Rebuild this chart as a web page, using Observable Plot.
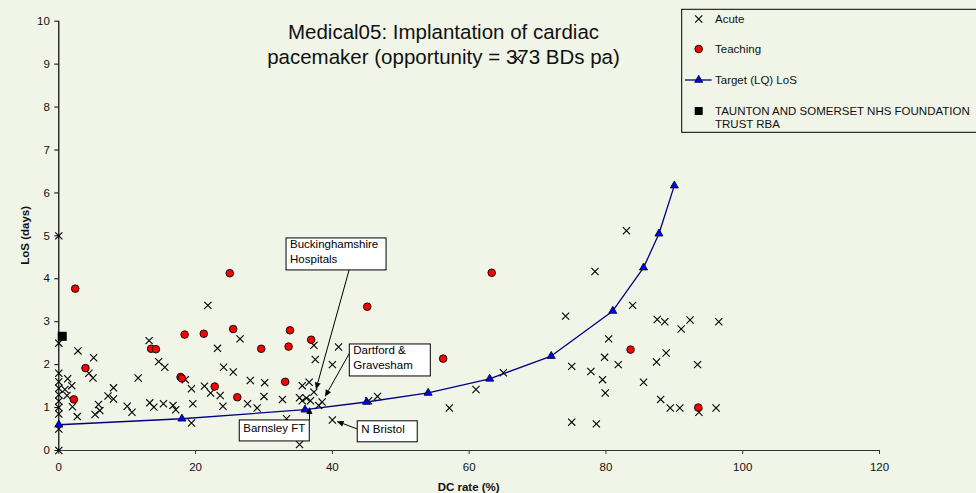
<!DOCTYPE html>
<html><head><meta charset="utf-8">
<script src="https://cdn.jsdelivr.net/npm/d3@7"></script>
<script src="https://cdn.jsdelivr.net/npm/@observablehq/plot@0.6"></script>
<style>
html,body{margin:0;padding:0;background:#F0F5E8;}
#chart{position:relative;width:976px;height:493px;overflow:hidden;}
svg{font-family:Arial,"Liberation Sans",sans-serif;}
</style></head><body><div id="chart"></div>
<script>
// ---- data ----
const titleLines = ["Medical05: Implantation of cardiac", "pacemaker (opportunity = 373 BDs pa)"];
const xLabel = "DC rate (%)";
const yLabel = "LoS (days)";
const xTicks = [0, 20, 40, 60, 80, 100, 120];
const yTicks = [0, 1, 2, 3, 4, 5, 6, 7, 8, 9, 10];
const seriesNames = ["Acute", "Teaching", "Target (LQ) LoS", "TAUNTON AND SOMERSET NHS FOUNDATION TRUST RBA"];

// Acute trusts [DC rate %, LoS days]
const acutePoints = [
  [0,5.0],[0,2.5],[0,1.8],[0,1.6],[0,1.45],[0,1.3],[0,1.15],[0,1.0],[0,0.85],[0,0.5],[0,0.0],
  [0.9,1.42],[1.3,1.67],[1.9,1.51],[1.2,1.28],[2.0,1.02],[2.7,0.79],
  [2.8,2.32],[5.1,2.16],[4.4,1.8],[5.0,1.69],[5.3,0.84],[6.0,0.93],[5.8,1.07],
  [7.2,1.27],[8.0,1.46],[8.0,1.20],[10.0,1.03],[10.7,0.89],[11.6,1.69],
  [13.2,2.56],[13.3,1.11],[13.9,1.01],[14.6,2.07],[15.5,1.94],[15.3,1.09],[16.7,1.05],[17.1,0.95],
  [18.5,1.65],[19.4,1.44],[19.6,1.09],[19.4,0.64],
  [21.3,1.50],[21.8,3.38],[22.2,1.34],[23.2,2.38],[23.6,1.28],[24.1,1.94],[24.0,1.03],[25.5,1.83],
  [26.5,2.60],[27.6,1.09],[28.0,1.63],[29.0,0.99],[30.1,1.58],[30.0,1.26],
  [32.7,1.19],[33.3,0.74],[35.6,1.51],[36.6,1.59],[37.3,2.45],[37.5,2.12],[40.9,2.41],[40.0,2.0],
  [35.2,1.23],[35.6,1.16],[36.2,1.22],[37.3,1.36],[36.8,1.16],[38.5,1.13],[38.0,1.05],[40.0,0.71],[35.2,0.14],
  [45.3,1.16],[46.6,1.26],[57.1,0.99],[61.0,1.42],[65.0,1.81],[67.1,9.13],
  [74.1,3.13],[75.0,1.96],[75.0,0.66],[78.4,4.17],[77.8,1.84],[78.6,0.62],[80.4,2.60],[79.8,2.17],
  [79.5,1.65],[79.9,1.34],[81.8,2.0],[83.9,3.38],[83.0,5.12],[85.5,1.59],[87.5,3.05],[88.6,3.0],
  [91.0,2.83],[92.3,3.04],[96.5,3.0],[87.4,2.06],[88.8,2.27],[93.4,2.0],[88.0,1.19],[89.4,0.99],
  [90.8,0.99],[93.6,0.89],[96.1,0.99]
];
// Teaching trusts [DC rate %, LoS days]
const teachingPoints = [
  [2.4,3.77],[25.0,4.13],[2.2,1.19],[3.9,1.92],[13.5,2.37],[14.2,2.36],[18.4,2.70],[21.2,2.72],
  [25.5,2.83],[17.8,1.71],[18.0,1.68],[22.8,1.49],[26.1,1.24],[29.6,2.37],[33.8,2.80],[33.6,2.42],
  [33.1,1.60],[36.9,2.58],[45.1,3.35],[63.3,4.14],[56.2,2.14],[83.6,2.35],[93.5,1.0]
];
// Target (LQ) LoS curve
const targetDC  = [0, 18, 36, 45, 54, 63, 72, 81, 85.5, 87.75, 90];
const targetLoS = [0.6, 0.74, 0.95, 1.13, 1.34, 1.67, 2.2, 3.25, 4.26, 5.05, 6.17];
// Highlighted trust
const tauntonPoint = [[0.5, 2.66]];
// Annotations: label lines, box top-left (DC, LoS), arrow from (DC, LoS) to (DC, LoS)
const annotations = [
  {lines:["Buckinghamshire","Hospitals"], boxDC:33.3, boxLoS:4.94, fromDC:42.55, fromLoS:4.21, toDC:37.67, toLoS:1.41},
  {lines:["Dartford &","Gravesham"], boxDC:42.55, boxLoS:2.47, fromDC:42.55, fromLoS:2.25, toDC:38.99, toLoS:1.24},
  {lines:["N Bristol"], boxDC:43.71, boxLoS:0.68, fromDC:43.71, fromLoS:0.49, toDC:40.7, toLoS:0.67},
  {lines:["Barnsley FT"], boxDC:26.46, boxLoS:0.70, fromDC:36.73, fromLoS:0.70, toDC:36.73, toLoS:1.0}
];
const annotationBoxWidths = [100, 81, 60, 70];

// ---- build ----
const toObj = ([dc, los]) => ({dc, los});
const acute = acutePoints.map(toObj);
const teaching = teachingPoints.map(toObj);
const target = targetDC.map((dc, i) => ({dc, los: targetLoS[i]}));
const taunton = tauntonPoint.map(toObj);

const BG = "#F0F5E8";
const FONT = "Arial, 'Liberation Sans', sans-serif";

const plot = Plot.plot({
  width: 976, height: 493,
  marginLeft: 58.3, marginRight: 97, marginTop: 20.7, marginBottom: 43,
  style: {background: BG, fontFamily: FONT, fontSize: "11.5px", color: "#111", overflow: "visible"},
  x: {domain: [0, 120]},
  y: {domain: [0, 10]},
  marks: [
    Plot.axisX({ticks: xTicks, tickSize: 4, tickPadding: 8, label: null, tickFormat: d => String(d), stroke: "#333"}),
    Plot.axisY({ticks: yTicks, tickSize: 4, tickPadding: 5, label: null, tickFormat: d => String(d), stroke: "#000"}),
    Plot.ruleY([0], {stroke: "#333", strokeWidth: 1.2}),
    Plot.ruleX([0], {stroke: "#000", strokeWidth: 1.2}),
    Plot.dot(acute, {x: "dc", y: "los", symbol: "times", r: 3.35, stroke: "#000", strokeWidth: 1.1}),
    Plot.dot(teaching, {x: "dc", y: "los", symbol: "circle", r: 3.8, fill: "#FF0000", stroke: "#000", strokeWidth: 0.9}),
    Plot.line(target, {x: "dc", y: "los", stroke: "#000080", strokeWidth: 1.3}),
    Plot.dot(target, {x: "dc", y: "los", symbol: d3.symbolTriangle, r: 3.0, fill: "#0000FF", stroke: "#000", strokeWidth: 0.8}),
    Plot.dot(taunton, {x: "dc", y: "los", symbol: "square", r: 5.1, fill: "#000", stroke: "none"})
  ]
});
document.getElementById("chart").appendChild(plot);

const svg = d3.select(plot);
const X = plot.scale("x").apply, Y = plot.scale("y").apply;

// Title
const tg = svg.append("g").attr("font-family", FONT).attr("font-size", "20.5px").attr("fill", "#111").attr("text-anchor", "middle");
titleLines.forEach((t, i) => tg.append("text").attr("x", 443.5).attr("y", 39.3 + i * 24.7).text(t));

// Axis titles
svg.append("text").attr("x", (X(0) + X(120)) / 2).attr("y", 490.5).attr("text-anchor", "middle")
  .attr("font-weight", "bold").attr("font-size", "11.5px").attr("font-family", FONT).attr("fill", "#111").text(xLabel);
svg.append("text").attr("transform", `translate(28.5,${(Y(0) + Y(10)) / 2}) rotate(-90)`).attr("text-anchor", "middle")
  .attr("font-weight", "bold").attr("font-size", "11.5px").attr("font-family", FONT).attr("fill", "#111").text(yLabel);

// Annotations
const ag = svg.append("g").attr("font-family", FONT).attr("font-size", "11.5px").attr("text-anchor", "start");
annotations.forEach((a, i) => {
  const x0 = X(a.boxDC), y0 = Y(a.boxLoS);
  const h = a.lines.length === 1 ? 21 : 32;
  const x1 = X(a.fromDC), y1 = Y(a.fromLoS), x2 = X(a.toDC), y2 = Y(a.toLoS);
  const ang = Math.atan2(y2 - y1, x2 - x1), L = 7, Wd = 3;
  const bx = x2 - L * Math.cos(ang), by = y2 - L * Math.sin(ang);
  ag.append("line").attr("x1", x1).attr("y1", y1).attr("x2", bx).attr("y2", by).attr("stroke", "#000").attr("stroke-width", 1);
  ag.append("path").attr("d", `M${x2},${y2}L${bx + Wd * Math.sin(ang)},${by - Wd * Math.cos(ang)}L${bx - Wd * Math.sin(ang)},${by + Wd * Math.cos(ang)}Z`).attr("fill", "#000");
  ag.append("rect").attr("x", x0).attr("y", y0).attr("width", annotationBoxWidths[i]).attr("height", h)
    .attr("fill", "#fff").attr("stroke", "#000").attr("stroke-width", 1);
  a.lines.forEach((t, j) => ag.append("text").attr("x", x0 + 4).attr("y", y0 + (h === 21 ? 11.7 : 10.5) + j * 15).attr("fill", "#000").text(t));
});

// Legend
const lg = svg.append("g").attr("font-family", FONT).attr("font-size", "11.5px").attr("fill", "#111").attr("text-anchor", "start");
lg.append("rect").attr("x", 681.7).attr("y", 9.3).attr("width", 320).attr("height", 123).attr("fill", BG).attr("stroke", "#000").attr("stroke-width", 1);
const lx = 698.7, tx = 715;
const rows = [19, 49, 80, 111];
lg.append("path").attr("transform", `translate(${lx},${rows[0]})`).attr("d", d3.symbol(d3.symbolTimes, Math.PI * 3.35 * 3.35)()).attr("stroke", "#000").attr("stroke-width", 1.1).attr("fill", "none");
lg.append("circle").attr("cx", lx).attr("cy", rows[1]).attr("r", 3.8).attr("fill", "#FF0000").attr("stroke", "#000").attr("stroke-width", 0.9);
lg.append("line").attr("x1", 685).attr("x2", 711.7).attr("y1", rows[2]).attr("y2", rows[2]).attr("stroke", "#000080").attr("stroke-width", 1.3);
lg.append("path").attr("transform", `translate(${lx},${rows[2]})`).attr("d", d3.symbol(d3.symbolTriangle, Math.PI * 9)()).attr("fill", "#0000FF").attr("stroke", "#000").attr("stroke-width", 0.8);
lg.append("path").attr("transform", `translate(${lx},${rows[3]})`).attr("d", d3.symbol(d3.symbolSquare, 64)()).attr("fill", "#000");
seriesNames.forEach((name, i) => {
  const words = name.split(" ");
  const lines = [];
  let cur = "";
  const t = lg.append("text").attr("x", tx).attr("y", 0).attr("visibility", "hidden");
  words.forEach(w => {
    const test = cur ? cur + " " + w : w;
    t.text(test);
    if (t.node().getComputedTextLength() > 262 && cur) { lines.push(cur); cur = w; } else cur = test;
  });
  lines.push(cur);
  t.remove();
  lines.forEach((ln, j) => lg.append("text").attr("x", tx).attr("y", rows[i] + 4 + j * 13).text(ln));
});
</script></body></html>
